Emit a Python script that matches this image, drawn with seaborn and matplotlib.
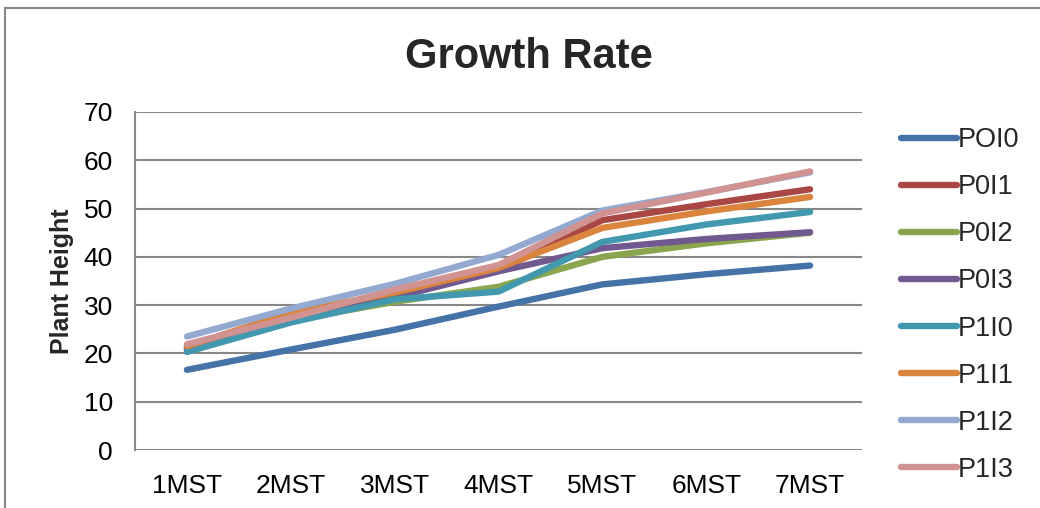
import matplotlib
matplotlib.use("Agg")
import matplotlib.pyplot as plt
from matplotlib.lines import Line2D
import seaborn as sns
import pandas as pd

# Sampling stages (months after planting)
stages = ["1MST", "2MST", "3MST", "4MST", "5MST", "6MST", "7MST"]

# Plant height per treatment
POI0 = [16.6, 20.8, 24.9, 29.7, 34.3, 36.4, 38.2]
P0I1 = [21.2, 28.0, 32.0, 37.2, 47.6, 50.9, 54.0]
P0I2 = [20.7, 26.8, 30.7, 33.8, 40.0, 42.8, 45.0]
P0I3 = [21.0, 27.5, 31.6, 37.0, 41.8, 43.7, 45.1]
P1I0 = [20.3, 26.4, 31.2, 32.8, 43.1, 46.7, 49.3]
P1I1 = [21.5, 28.4, 32.6, 37.7, 46.0, 49.4, 52.4]
P1I2 = [23.5, 29.3, 34.4, 40.4, 49.6, 53.4, 57.5]
P1I3 = [21.9, 27.4, 33.2, 38.3, 49.0, 53.3, 57.7]

series_names = ["POI0", "P0I1", "P0I2", "P0I3", "P1I0", "P1I1", "P1I2", "P1I3"]
series_values = [POI0, P0I1, P0I2, P0I3, P1I0, P1I1, P1I2, P1I3]
colors = ["#4572A7", "#AA4643", "#89A54E", "#71588F",
          "#4198AF", "#DB843D", "#93A9CF", "#D19392"]

rows = []
for name, vals in zip(series_names, series_values):
    for st, v in zip(stages, vals):
        rows.append({"Stage": st, "Height": v, "Treatment": name})
df = pd.DataFrame(rows)

sns.set_style("white")
plt.rcParams["font.family"] = ["Liberation Sans", "DejaVu Sans"]

fig = plt.figure(figsize=(10.4, 5.08), dpi=100)
ax = fig.add_axes([135 / 1040, 1 - 450 / 508, 727 / 1040, 338 / 508])

grid_col = "#878787"
for v in range(0, 71, 10):
    ax.axhline(v, color=grid_col, lw=1.5, zorder=0)

sns.lineplot(data=df, x="Stage", y="Height", hue="Treatment",
             hue_order=series_names, palette=colors, sort=False,
             linewidth=4.6, ax=ax, legend=False)
for ln in ax.get_lines():
    ln.set_solid_capstyle("round")
    ln.set_solid_joinstyle("round")

ax.set_xlim(-0.5, len(stages) - 0.5)
ax.set_ylim(0, 70)
ax.set_yticks(range(0, 71, 10))
ax.set_xticks(range(len(stages)))
ax.set_xticklabels(stages)
ax.tick_params(axis="both", length=0, labelsize=19, colors="black")
ax.tick_params(axis="y", pad=16)
ax.tick_params(axis="x", pad=17)
ax.set_xlabel("")
ax.set_ylabel("Plant Height", fontsize=18, fontweight="bold", labelpad=7)

for s in ["top", "right", "bottom"]:
    ax.spines[s].set_visible(False)
ax.spines["left"].set_color(grid_col)
ax.spines["left"].set_linewidth(1.5)

fig.suptitle("Growth Rate", x=529 / 1040, y=1 - 57 / 508,
             fontsize=30, fontweight="bold", va="center")

handles = [Line2D([0], [0], color=c, lw=4.6, solid_capstyle="round")
           for c in colors]
fig.legend(handles, series_names, loc="upper left",
           bbox_to_anchor=(901 / 1040, 1 - 127 / 508), frameon=False,
           fontsize=19.5, handlelength=2.05, handletextpad=0.05,
           labelspacing=0.78, borderaxespad=0, borderpad=0)

# Outer chart frame
fig.add_artist(Line2D([5 / 1040, 5 / 1040], [0, 1 - 8 / 508],
                      transform=fig.transFigure, color=grid_col, lw=1.5))
fig.add_artist(Line2D([5 / 1040, 1], [1 - 8 / 508, 1 - 8 / 508],
                      transform=fig.transFigure, color=grid_col, lw=1.5))

fig.savefig("out.png", dpi=100)
